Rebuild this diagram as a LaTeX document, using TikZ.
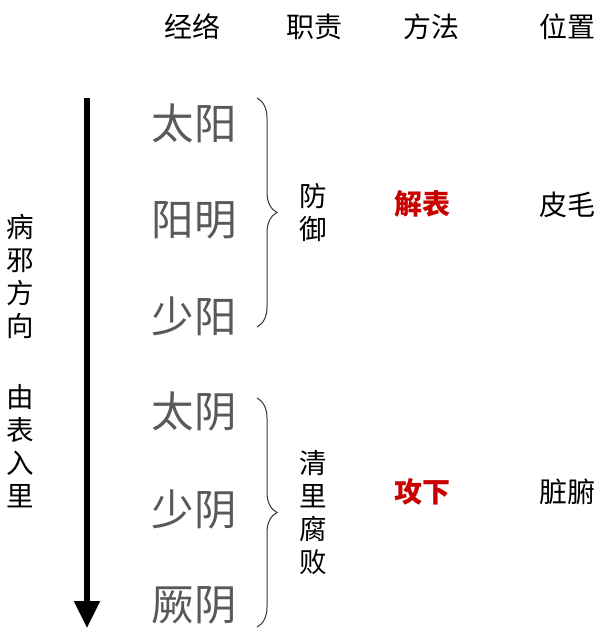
\documentclass[tikz,border=0pt]{standalone}
\usepackage{fontspec}
\setmainfont{Noto Sans CJK SC}
\usetikzlibrary{arrows.meta,decorations.pathreplacing}
\definecolor{bigtext}{HTML}{595959}
\definecolor{redtext}{HTML}{C80000}
\definecolor{bracecol}{HTML}{333333}
\tikzset{
  header/.style={inner sep=0pt, anchor=center, font=\fontsize{28}{28}\selectfont},
  bigname/.style={inner sep=0pt, anchor=center, text=bigtext, font=\fontsize{42.5}{42.5}\selectfont},
  small/.style={inner sep=0pt, anchor=center, font=\fontsize{28}{28}\selectfont},
  vstack/.style={inner sep=0pt, anchor=center, align=center, font=\fontsize{27.5}{33}\selectfont},
  method/.style={inner sep=0pt, anchor=center, text=redtext, font=\fontsize{28}{28}\selectfont\bfseries},
  bracestyle/.style={draw=bracecol, line width=1pt, decorate, decoration={brace, amplitude=20pt, aspect=0.5}},
  mainarrow/.style={line width=5.5pt, -{Triangle[width=25pt,length=27pt]}}
}
\begin{document}
\begin{tikzpicture}[x=1pt,y=-1pt]
\useasboundingbox (0,0) rectangle (604,636);
% headers
\node[header] (h1) at (192,27) {经络};
\node[header] (h2) at (314,27) {职责};
\node[header] (h3) at (431,27) {方法};
\node[header] (h4) at (567,27) {位置};
% left vertical text
\node[vstack] (dir1) at (20,277) {病\\邪\\方\\向};
\node[vstack] (dir2) at (20,446) {由\\表\\入\\里};
% arrow
\coordinate (atop) at (87,98);
\coordinate (abot) at (87,628);
\draw[mainarrow] (atop) -- (abot);
% channel names
\node[bigname] (n1) at (194,123) {太阳};
\node[bigname] (n2) at (194,220) {阳明};
\node[bigname] (n3) at (194,316) {少阳};
\node[bigname] (n4) at (194,412) {太阴};
\node[bigname] (n5) at (194,509) {少阴};
\node[bigname] (n6) at (194,605) {厥阴};
% braces
\coordinate (b1t) at (257,98);
\coordinate (b1b) at (257,327);
\coordinate (b2t) at (257,398);
\coordinate (b2b) at (257,627);
\draw[bracestyle] (b1t) -- (b1b);
\draw[bracestyle] (b2t) -- (b2b);
% duties
\node[vstack] (d1) at (313,213) {防\\御};
\node[vstack] (d2) at (313,513) {清\\里\\腐\\败};
% methods
\node[method] (m1) at (422,204) {解表};
\node[method] (m2) at (422,492) {攻下};
% positions
\node[small] (p1) at (567,205) {皮毛};
\node[small] (p2) at (567,492) {脏腑};
\end{tikzpicture}
\end{document}
